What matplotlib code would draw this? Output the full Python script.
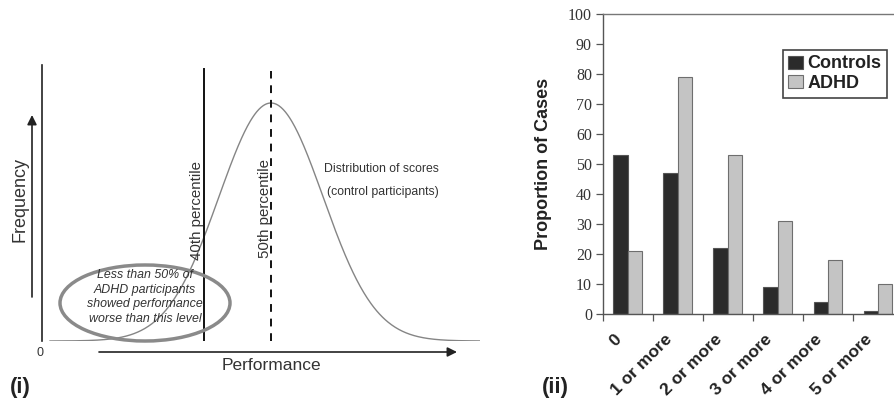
import numpy as np
import matplotlib
matplotlib.use("Agg")
import matplotlib.pyplot as plt
from matplotlib.patches import Ellipse
from matplotlib.transforms import ScaledTranslation

# ---------------- data ----------------
# Panel (i): conceptual distribution of control scores
score_mean = 50.0
score_sd = 10.0
line_40th = 37.1      # position of the "40th percentile" line (as drawn)
line_50th = 50.0      # position of the "50th percentile" line
# Panel (ii)
categories = ["0", "1 or more", "2 or more", "3 or more", "4 or more", "5 or more"]
controls = [53, 47, 22, 9, 4, 1]
adhd = [21, 79, 53, 31, 18, 10]
yticks = [0, 10, 20, 30, 40, 50, 60, 70, 80, 90, 100]

W, H = 895, 408
fig = plt.figure(figsize=(W / 100, H / 100), dpi=100)
plt.rcParams['font.family'] = ['Liberation Sans', 'DejaVu Sans']


def fx(px):
    return px / W


def fy(py):
    return 1 - py / H


# ---------------- panel (i) ----------------
ax1 = fig.add_axes([fx(42), fy(341), fx(480 - 42), (341 - 65) / H])
xs = np.linspace(7.5, 90.2, 600)
pdf = np.exp(-0.5 * ((xs - score_mean) / score_sd) ** 2) / (score_sd * np.sqrt(2 * np.pi))
peak = 1 / (score_sd * np.sqrt(2 * np.pi))
ax1.plot(xs, pdf, color="#858585", lw=1.0)
ax1.set_xlim(5.96, 90.2)
ax1.set_ylim(0, peak * 276 / 238)
ax1.axvline(line_40th, ymin=0, ymax=0.985, color="#111111", lw=1.4)
ax1.axvline(line_50th, ymin=0, ymax=0.978, color="#111111", lw=1.4, ls=(0, (4, 3.5)))
for s in ["top", "right", "bottom"]:
    ax1.spines[s].set_visible(False)
ax1.spines["left"].set_color("#222222")
ax1.spines["left"].set_linewidth(1.2)
ax1.set_xticks([])
ax1.set_yticks([])
ax1.patch.set_alpha(0)

txtc = "#333333"
fig.text(fx(197), fy(211), "40th percentile", rotation=90, ha="center", va="center",
         fontsize=10.8, color=txtc)
fig.text(fx(265), fy(208), "50th percentile", rotation=90, ha="center", va="center",
         fontsize=10.8, color=txtc)
fig.text(fx(381), fy(169), "Distribution of scores", ha="center", va="center",
         fontsize=8.8, color=txtc)
fig.text(fx(383), fy(192), "(control participants)", ha="center", va="center",
         fontsize=8.8, color=txtc)
fig.text(fx(145), fy(297), "Less than 50% of\nADHD participants\nshowed performance\nworse than this level",
         ha="center", va="center", fontsize=8.9, style="italic", color=txtc, linespacing=1.28)
fig.add_artist(Ellipse((fx(145), fy(303)), fx(170), 76 / H, transform=fig.transFigure,
                       fill=False, edgecolor="#8a8a8a", lw=2.5))
fig.text(fx(20), fy(200), "Frequency", rotation=90, ha="center", va="center",
         fontsize=13, color=txtc)
fig.text(fx(271), fy(366), "Performance", ha="center", va="center", fontsize=12.5, color=txtc)
fig.text(fx(40), fy(353), "0", ha="center", va="center", fontsize=9, color=txtc)
fig.text(fx(20), fy(388), "(i)", ha="center", va="center", fontsize=16, fontweight="bold",
         color="#222222")
ax1.annotate("", xy=(32, H - 115), xytext=(32, H - 297), xycoords="figure pixels",
             textcoords="figure pixels",
             arrowprops=dict(arrowstyle="-|>", color="#222222", lw=1.2, mutation_scale=14,
                             shrinkA=0, shrinkB=0))
ax1.annotate("", xy=(457, H - 352), xytext=(99, H - 352), xycoords="figure pixels",
             textcoords="figure pixels",
             arrowprops=dict(arrowstyle="-|>", color="#222222", lw=1.2, mutation_scale=14,
                             shrinkA=0, shrinkB=0))

# ---------------- panel (ii) ----------------
ax2 = fig.add_axes([fx(603), fy(314), 300 / W, 300 / H])
x = np.arange(len(categories)) + 0.5
bw = 0.29
ax2.bar(x - bw / 2, controls, bw, color="#2b2b2b", edgecolor="#555555", lw=0.8, label="Controls")
ax2.bar(x + bw / 2, adhd, bw, color="#c4c4c4", edgecolor="#6e6e6e", lw=0.8, label="ADHD")
ax2.set_xlim(0, len(categories))
ax2.set_ylim(0, 100)
ax2.set_yticks(yticks)
ax2.set_yticklabels([str(v) for v in yticks], family=["Liberation Serif", "DejaVu Serif"],
                    fontsize=11.5, color="#333333")
ax2.tick_params(axis="y", length=5, width=0.9, color="#555555", pad=3)
ax2.set_xticks(np.arange(len(categories) + 1))
ax2.set_xticklabels([])
ax2.tick_params(axis="x", which="major", length=5, width=0.9, color="#555555")
ax2.set_xticks(x, minor=True)
ax2.set_xticklabels(categories, minor=True, rotation=45, ha="right", va="top",
                    rotation_mode="anchor", fontsize=12.5, fontweight="bold", color="#222222")
ax2.tick_params(axis="x", which="minor", length=0, pad=0)
off = ScaledTranslation(-14 / 100, -18 / 100, fig.dpi_scale_trans)
for lab in ax2.get_xticklabels(minor=True):
    lab.set_transform(lab.get_transform() + off)
for s in ["left", "bottom"]:
    ax2.spines[s].set_color("#555555")
    ax2.spines[s].set_linewidth(1.0)
ax2.spines["top"].set_color("#777777")
ax2.spines["top"].set_linewidth(1.0)
ax2.spines["right"].set_visible(False)
ax2.set_ylabel("Proportion of Cases", fontsize=13, fontweight="bold", color="#222222")
ax2.yaxis.set_label_coords(-0.17, 0.5)
leg = ax2.legend(loc="upper left", bbox_to_anchor=(fx(783), fy(50)), bbox_transform=fig.transFigure,
                 borderaxespad=0, frameon=True, fancybox=False, framealpha=1,
                 prop=dict(weight="bold", size=13), handlelength=0.8, handleheight=0.75,
                 handletextpad=0.25, labelspacing=0.15, borderpad=0.3)
leg.get_frame().set_edgecolor("#444444")
leg.get_frame().set_linewidth(1.2)
for t in leg.get_texts():
    t.set_color("#222222")
fig.text(fx(555), fy(388), "(ii)", ha="center", va="center", fontsize=16, fontweight="bold",
         color="#222222")

fig.savefig("out.png", dpi=100)
